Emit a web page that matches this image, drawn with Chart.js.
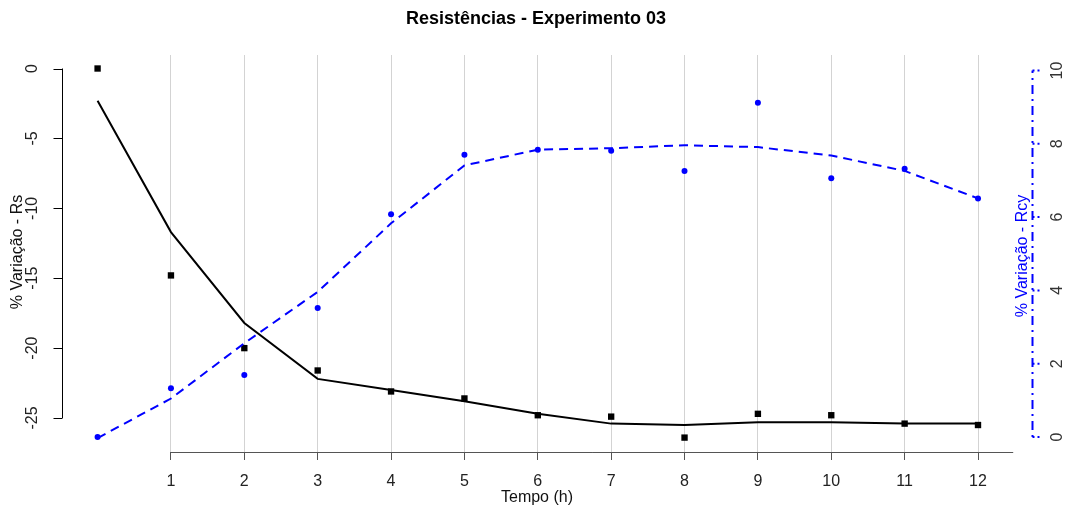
<!DOCTYPE html>
<html lang="pt">
<head>
<meta charset="utf-8">
<title>Resistências - Experimento 03</title>
<script src="https://cdn.jsdelivr.net/npm/chart.js@4.4.1/dist/chart.umd.min.js"></script>
<style>
  html, body { margin: 0; padding: 0; background: #fff; }
  #wrap { width: 1067px; height: 509px; }
</style>
</head>
<body>
<div id="wrap"><canvas id="chart"></canvas></div>
<script>
// dados
const horas = [0, 1, 2, 3, 4, 5, 6, 7, 8, 9, 10, 11, 12];
const rsMedido = [0.0, -14.8, -20.0, -21.6, -23.1, -23.6, -24.8, -24.9, -26.4, -24.7, -24.8, -25.4, -25.5];
const rsAjuste = [-2.3, -11.7, -18.2, -22.2, -23.0, -23.8, -24.7, -25.4, -25.5, -25.3, -25.3, -25.4, -25.4];
const rcyMedido = [0.0, 1.33, 1.69, 3.52, 6.08, 7.70, 7.84, 7.81, 7.26, 9.12, 7.06, 7.32, 6.51];
const rcyAjuste = [-0.03, 1.05, 2.56, 3.96, 5.83, 7.41, 7.84, 7.88, 7.96, 7.91, 7.68, 7.26, 6.51];

const ticksX = [1, 2, 3, 4, 5, 6, 7, 8, 9, 10, 11, 12];
const ticksRs = [0, -5, -10, -15, -20, -25];
const ticksRcy = [0, 2, 4, 6, 8, 10];

const fonte = '"Liberation Sans", Arial, sans-serif';
const azul = '#0000ff';

const pontos = (ys) => horas.map((h, i) => ({ x: h, y: ys[i] }));

function textoVertical(ctx, txt, x, y) {
    ctx.save();
    ctx.translate(x, y);
    ctx.rotate(-Math.PI / 2);
    ctx.fillText(txt, 0, 0);
    ctx.restore();
}

// eixos no estilo do R (linha só entre os ticks, rótulos girados)
const eixos = {
    id: 'eixos',
    afterDraw(chart) {
        const { ctx, chartArea: a, scales: { x, y, y1 } } = chart;
        ctx.save();

        // título
        ctx.fillStyle = '#000';
        ctx.font = 'bold 18px ' + fonte;
        ctx.textAlign = 'center';
        ctx.textBaseline = 'middle';
        ctx.fillText('Resistências - Experimento 03', 536, 19);

        // eixo x
        ctx.strokeStyle = '#555';
        ctx.lineWidth = 1;
        ctx.beginPath();
        ctx.moveTo(x.getPixelForValue(ticksX[0]), a.bottom + 0.5);
        ctx.lineTo(x.getPixelForValue(12.48), a.bottom + 0.5);
        ctx.stroke();

        ctx.fillStyle = '#111';
        ctx.font = '16px ' + fonte;
        ctx.fillText('Tempo (h)', 537, 498);

        // eixo Rs (esquerda)
        const xl = a.left + 0.5;
        ctx.strokeStyle = '#000';
        ctx.beginPath();
        ctx.moveTo(xl, y.getPixelForValue(ticksRs[0]));
        ctx.lineTo(xl, y.getPixelForValue(ticksRs[ticksRs.length - 1]));
        ticksRs.forEach(v => {
            const py = Math.round(y.getPixelForValue(v)) + 0.5;
            ctx.moveTo(xl - 9, py);
            ctx.lineTo(xl, py);
        });
        ctx.stroke();

        ctx.fillStyle = '#222';
        ticksRs.forEach(v => textoVertical(ctx, String(v), 33, y.getPixelForValue(v)));
        ctx.fillStyle = '#111';
        textoVertical(ctx, '% Variação - Rs', 18, 252);

        // eixo Rcy (direita), tracejado ponto-traço
        const xr = a.right + 0.5;
        ctx.strokeStyle = azul;
        ctx.lineWidth = 2;
        ctx.setLineDash([2, 5, 9, 5]);
        ctx.beginPath();
        ctx.moveTo(xr, y1.getPixelForValue(ticksRcy[0]));
        ctx.lineTo(xr, y1.getPixelForValue(ticksRcy[ticksRcy.length - 1]));
        ctx.stroke();
        ctx.setLineDash([2, 3]);
        ctx.beginPath();
        ticksRcy.forEach(v => {
            const py = y1.getPixelForValue(v);
            ctx.moveTo(xr, py);
            ctx.lineTo(xr + 9, py);
        });
        ctx.stroke();
        ctx.setLineDash([]);

        ctx.fillStyle = '#333';
        ticksRcy.forEach(v => textoVertical(ctx, String(v), 1058, y1.getPixelForValue(v)));
        ctx.fillStyle = azul;
        textoVertical(ctx, '% Variação - Rcy', 1023, 256);

        ctx.restore();
    }
};

new Chart(document.getElementById('chart'), {
    type: 'line',
    data: {
        datasets: [{
            label: 'Rcy ajuste',
            data: pontos(rcyAjuste),
            yAxisID: 'y1',
            borderColor: azul,
            borderWidth: 2,
            borderDash: [9, 6],
            pointRadius: 0,
            tension: 0
        }, {
            label: 'Rcy',
            data: pontos(rcyMedido),
            yAxisID: 'y1',
            showLine: false,
            pointStyle: 'circle',
            pointRadius: 3,
            backgroundColor: azul,
            borderColor: azul,
            borderWidth: 0
        }, {
            label: 'Rs ajuste',
            data: pontos(rsAjuste),
            yAxisID: 'y',
            borderColor: '#000',
            borderWidth: 2,
            pointRadius: 0,
            tension: 0
        }, {
            label: 'Rs',
            data: pontos(rsMedido),
            yAxisID: 'y',
            showLine: false,
            pointStyle: 'rect',
            pointRadius: 4.5,
            backgroundColor: '#000',
            borderColor: '#000',
            borderWidth: 0
        }]
    },
    options: {
        responsive: true,
        maintainAspectRatio: false,
        animation: false,
        layout: { padding: { left: 62, right: 35, top: 55, bottom: 5 } },
        plugins: {
            legend: { display: false },
            tooltip: { enabled: false },
            title: { display: false }
        },
        scales: {
            x: {
                type: 'linear',
                min: -0.485,
                max: 12.736,
                afterBuildTicks: s => { s.ticks = ticksX.map(v => ({ value: v })); },
                grid: { color: '#d3d3d3', lineWidth: 1, tickLength: 8, tickColor: '#555' },
                border: { display: false },
                ticks: {
                    color: '#222',
                    padding: 14,
                    font: { family: fonte, size: 16, lineHeight: 1 },
                    maxRotation: 0
                }
            },
            y: {
                display: false,
                min: -27.43,
                max: 0.966
            },
            y1: {
                display: false,
                position: 'right',
                min: -0.409,
                max: 10.423
            }
        }
    },
    plugins: [eixos]
});
</script>
</body>
</html>
